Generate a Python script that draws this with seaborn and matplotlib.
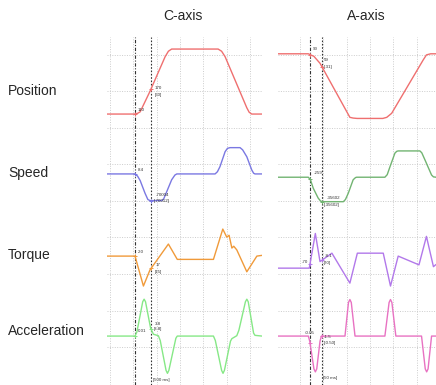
import numpy as np
import matplotlib
matplotlib.use("Agg")
import matplotlib.pyplot as plt
import seaborn as sns

sns.set_theme(style="white")
plt.rcParams['font.family'] = ['Liberation Sans', 'DejaVu Sans']

# screen readings, in grid divisions (x = time div, y = vertical div)
# C-axis column
c_pos_x = [-0.13, 1.07, 1.18, 1.29, 1.71, 2.36, 2.50, 2.64, 4.63, 4.78, 4.93, 5.86, 5.96, 6.07, 6.51]
c_pos_y = [7.42, 7.42, 7.44, 7.48, 8.04, 8.99, 9.14, 9.20, 9.20, 9.14, 8.99, 7.59, 7.47, 7.42, 7.42]

c_spd_x = [-0.13, 1.07, 1.18, 1.29, 1.50, 1.62, 1.71, 2.22, 2.30, 2.40, 2.64, 2.78, 2.86,
           4.50, 4.60, 4.71, 4.93, 5.03, 5.14, 5.57, 5.68, 5.86, 6.07, 6.15, 6.21, 6.51]
c_spd_y = [5.78, 5.78, 5.72, 5.60, 5.25, 5.08, 5.05, 5.05, 5.10, 5.25, 5.62, 5.75, 5.78,
           5.78, 5.84, 5.98, 6.39, 6.48, 6.50, 6.50, 6.44, 6.25, 5.89, 5.80, 5.78, 5.78]

c_trq_x = [-0.13, 1.07, 1.43, 1.71, 2.50, 2.88, 4.43, 4.83, 5.00, 5.10, 5.22, 5.30, 5.43, 5.86, 6.29, 6.51]
c_trq_y = [3.53, 3.53, 2.71, 3.15, 3.86, 3.44, 3.44, 4.27, 4.05, 4.10, 3.75, 3.80, 3.70, 3.10, 3.53, 3.55]

c_acc_x = [-0.13, 1.07, 1.15, 1.40, 1.46, 1.52, 1.74, 1.86, 2.07, 2.15, 2.40, 2.46, 2.52, 2.82, 2.88,
           4.43, 4.51, 4.78, 4.84, 4.90, 5.16, 5.22, 5.43, 5.52, 5.80, 5.86, 5.92, 6.15, 6.21, 6.51]
c_acc_y = [1.34, 1.34, 1.45, 2.28, 2.35, 2.28, 1.55, 1.39, 1.35, 1.22, 0.40, 0.32, 0.40, 1.28, 1.34,
           1.34, 1.22, 0.40, 0.32, 0.40, 1.20, 1.27, 1.35, 1.50, 2.28, 2.35, 2.28, 1.42, 1.36, 1.34]

# A-axis column
a_pos_x = [-0.94, 0.36, 0.60, 0.86, 2.14, 2.28, 2.45, 3.55, 3.72, 3.93, 5.28, 5.42, 5.60, 5.83]
a_pos_y = [9.07, 9.07, 9.00, 8.81, 7.33, 7.31, 7.30, 7.30, 7.33, 7.44, 8.90, 9.04, 9.07, 9.07]

a_spd_x = [-0.94, 0.36, 0.45, 0.57, 0.78, 0.88, 0.95, 1.86, 1.95, 2.07, 2.28, 2.38, 2.43,
           3.64, 3.74, 3.86, 4.07, 4.15, 4.21, 5.14, 5.22, 5.36, 5.64, 5.72, 5.83]
a_spd_y = [5.69, 5.69, 5.62, 5.39, 5.12, 5.04, 5.02, 5.02, 5.08, 5.25, 5.62, 5.68, 5.69,
           5.69, 5.76, 5.98, 6.35, 6.40, 6.41, 6.41, 6.36, 6.16, 5.75, 5.70, 5.69]

a_trq_x = [-0.94, 0.40, 0.66, 0.86, 1.37, 2.14, 2.46, 3.57, 3.88, 4.21, 5.10, 5.42, 5.72, 5.83]
a_trq_y = [3.20, 3.20, 4.15, 3.38, 3.61, 2.79, 3.61, 3.61, 2.71, 3.53, 3.29, 4.07, 3.24, 3.30]

a_acc_x = [-0.94, 0.36, 0.42, 0.60, 0.66, 0.72, 0.86, 0.92, 1.93, 2.08, 2.14, 2.20, 2.36,
           3.64, 3.82, 3.88, 3.94, 4.11, 5.21, 5.37, 5.43, 5.49, 5.64, 5.83]
a_acc_y = [1.34, 1.34, 1.20, 0.44, 0.36, 0.44, 1.20, 1.34, 1.34, 2.26, 2.34, 2.26, 1.34,
           1.34, 2.26, 2.34, 2.26, 1.34, 1.34, 0.44, 0.36, 0.44, 1.34, 1.34]

row_names = ["Position", "Speed", "Torque", "Acceleration"]
row_label_px = [91, 173, 255, 331]
col_titles = ["C-axis", "A-axis"]
col_title_px = [182.5, 366]

# cursor readouts: (text, x, y)
c_labels = [("110", 1.20, 7.52), ("170", 1.93, 8.13), ("[60]", 1.90, 7.95),
            ("8.4", 1.17, 5.89), ("-70004", 1.97, 5.20), ("[-70012]", 1.89, 5.04),
            ("2.0", 1.21, 3.65), ("17", 1.94, 3.29), ("[15]", 1.90, 3.10),
            ("0.01", 1.19, 1.48), ("3.8", 1.93, 1.66), ("[3.8]", 1.89, 1.53),
            ("[500 ms]", 1.86, 0.14)]
a_labels = [("90", 0.57, 9.20), ("59", 1.04, 8.90), ("[-31]", 1.00, 8.72),
            ("-259", 0.61, 5.80), ("-35602", 1.14, 5.12), ("[-35602]", 1.04, 4.93),
            ("-70", 0.10, 3.36), ("-8.1", 1.07, 3.52), ("[70]", 1.04, 3.33),
            ("-0.05", 0.20, 1.42), ("-1.5", 1.04, 1.32), ("[-0.50]", 1.00, 1.14),
            ("[50 ms]", 1.00, 0.20)]

columns = [
    dict(rect=[107 / 436, 0, 155 / 436, 348 / 385], xlim=(-0.13, 6.51), grid_x=range(0, 7),
         cursors=(1.07, 1.76), labels=c_labels,
         traces=[(c_pos_x, c_pos_y, "#ef6f6f"), (c_spd_x, c_spd_y, "#7a78e2"),
                 (c_trq_x, c_trq_y, "#f09a3a"), (c_acc_x, c_acc_y, "#86e886")]),
    dict(rect=[278 / 436, 0, 158 / 436, 348 / 385], xlim=(-0.94, 5.83), grid_x=range(0, 6),
         cursors=(0.43, 0.94), labels=a_labels,
         traces=[(a_pos_x, a_pos_y, "#ef6f6f"), (a_spd_x, a_spd_y, "#72b472"),
                 (a_trq_x, a_trq_y, "#b278ea"), (a_acc_x, a_acc_y, "#e872c2")]),
]

fig = plt.figure(figsize=(4.36, 3.85), dpi=100)

for col, title, tpx in zip(columns, col_titles, col_title_px):
    ax = fig.add_axes(col["rect"])
    ax.set_xlim(*col["xlim"])
    ax.set_ylim(0, 9.53)
    for gx in col["grid_x"]:
        ax.axvline(gx, color="#cccccc", lw=0.7, ls=(0, (1, 1.5)), zorder=0)
    for gy in np.arange(1, 10) + 0.04:
        ax.axhline(gy, color="#cccccc", lw=0.7, ls=(0, (1, 1.5)), zorder=0)

    for tx, ty, color in col["traces"]:
        sns.lineplot(x=tx, y=ty, ax=ax, color=color, lw=1.0, sort=False,
                     estimator=None, zorder=3)
        for cx in col["cursors"]:
            ax.plot(cx, np.interp(cx, tx, ty), marker="+", ms=3, mew=0.7,
                    color=color, zorder=4)

    c1, c2 = col["cursors"]
    ax.axvline(c1, color="#333333", lw=0.8, ls=(0, (3, 1.5, 1, 1.5)), zorder=2)
    ax.axvline(c2, color="#333333", lw=0.8, ls=(0, (1.5, 1.5)), zorder=2)

    for txt, lx, ly in col["labels"]:
        ax.text(lx, ly, txt, fontsize=3.2, color="#333333", ha="left", va="center")

    ax.set_xticks([])
    ax.set_yticks([])
    for s in ax.spines.values():
        s.set_visible(False)
    ax.set_facecolor("white")

    fig.text(tpx / 436, 1 - 16 / 385, title, fontsize=10, ha="center", va="center")

for name, py in zip(row_names, row_label_px):
    fig.text(8 / 436, 1 - py / 385, name, fontsize=10, ha="left", va="center")

fig.savefig("out.png", dpi=100)
